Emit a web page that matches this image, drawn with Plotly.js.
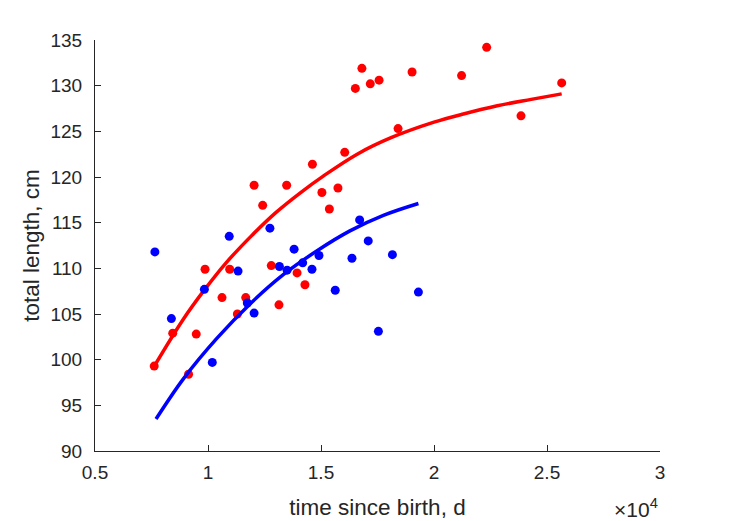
<!DOCTYPE html>
<html>
<head>
<meta charset="utf-8">
<script src="https://cdn.plot.ly/plotly-3.0.1.min.js"></script>
<style>
  html, body { margin: 0; padding: 0; background: #fff; }
  #chart { width: 729px; height: 521px; }
</style>
</head>
<body>
<div id="chart"></div>
<script>
// time since birth (units of 1e4 d) and total length (cm)
const redX = [0.762, 0.844, 0.914, 0.948, 0.987, 1.062, 1.096, 1.130, 1.167, 1.204,
              1.242, 1.280, 1.314, 1.348, 1.394, 1.429, 1.462, 1.504, 1.537, 1.575,
              1.605, 1.652, 1.681, 1.718, 1.757, 1.841, 1.903, 2.122, 2.233, 2.385, 2.565];
const redY = [99.3, 102.9, 98.4, 102.8, 109.9, 106.8, 109.9, 105.0, 106.8, 119.1,
              116.9, 110.3, 106.0, 119.1, 109.5, 108.2, 121.4, 118.3, 116.5, 118.8,
              122.7, 129.7, 131.9, 130.2, 130.6, 125.3, 131.5, 131.1, 134.2, 126.7, 130.3];

const blueX = [0.765, 0.838, 0.984, 1.019, 1.094, 1.133, 1.174, 1.204, 1.274, 1.316, 1.350,
               1.381, 1.419, 1.460, 1.491, 1.563, 1.637, 1.671, 1.709, 1.754, 1.816, 1.931];
const blueY = [111.8, 104.5, 107.7, 99.7, 113.5, 109.7, 106.2, 105.1, 114.4, 110.2, 109.8,
               112.1, 110.6, 109.9, 111.4, 107.6, 111.1, 115.3, 113.0, 103.1, 111.5, 107.4];

// fitted growth curves
const redFitX = [0.765, 0.89, 0.98, 1.08, 1.19, 1.30, 1.41, 1.51, 1.66, 1.81, 2.00, 2.13, 2.28, 2.43, 2.565];
const redFitY = [99.4, 104.4, 107.5, 110.6, 113.5, 116.1, 118.3, 120.1, 122.5, 124.3, 126.0, 126.9, 127.8, 128.5, 129.1];

const blueFitX = [0.770, 0.891, 1.038, 1.186, 1.333, 1.481, 1.628, 1.776, 1.931];
const blueFitY = [93.5, 97.9, 102.3, 106.1, 109.3, 111.9, 114.1, 115.8, 117.1];

const xTicks = [0.5, 1, 1.5, 2, 2.5, 3];
const yTicks = [90, 95, 100, 105, 110, 115, 120, 125, 130, 135];

const axisColor = '#262626';
const font = 'Liberation Sans, Arial, sans-serif';

const traces = [
  { x: redX, y: redY, mode: 'markers', type: 'scatter',
    marker: { color: '#ff0000', size: 9 } },
  { x: redFitX, y: redFitY, mode: 'lines', type: 'scatter',
    line: { color: '#ff0000', width: 3.5, shape: 'spline' } },
  { x: blueX, y: blueY, mode: 'markers', type: 'scatter',
    marker: { color: '#0000ff', size: 9 } },
  { x: blueFitX, y: blueFitY, mode: 'lines', type: 'scatter',
    line: { color: '#0000ff', width: 3.5, shape: 'spline' } }
];

const layout = {
  width: 729, height: 521,
  margin: { l: 95, r: 69, t: 40, b: 70 },
  paper_bgcolor: '#fff', plot_bgcolor: '#fff',
  showlegend: false,
  font: { family: font, size: 19, color: axisColor },
  xaxis: {
    range: [0.5, 3], tickvals: xTicks, ticktext: xTicks.map(String),
    showgrid: false, zeroline: false, showline: true, linecolor: axisColor, linewidth: 1,
    ticks: 'inside', ticklen: 6, tickcolor: axisColor, ticklabelstandoff: 4,
    title: { text: 'time since birth, d', font: { size: 22.5 }, standoff: 17 }
  },
  yaxis: {
    range: [90, 135], tickvals: yTicks, ticktext: yTicks.map(String),
    showgrid: false, zeroline: false, showline: true, linecolor: axisColor, linewidth: 1,
    ticks: 'inside', ticklen: 6, tickcolor: axisColor, ticklabelstandoff: 8,
    title: { text: 'total length, cm', font: { size: 22.5 }, standoff: 4 }
  },
  annotations: [{
    xref: 'paper', yref: 'paper', x: 1, y: 0, yshift: -42,
    xanchor: 'right', yanchor: 'top', showarrow: false,
    text: '×10<sup>4</sup>', font: { size: 21, color: axisColor }
  }]
};

Plotly.newPlot('chart', traces, layout, { displayModeBar: false, staticPlot: true });
</script>
</body>
</html>
